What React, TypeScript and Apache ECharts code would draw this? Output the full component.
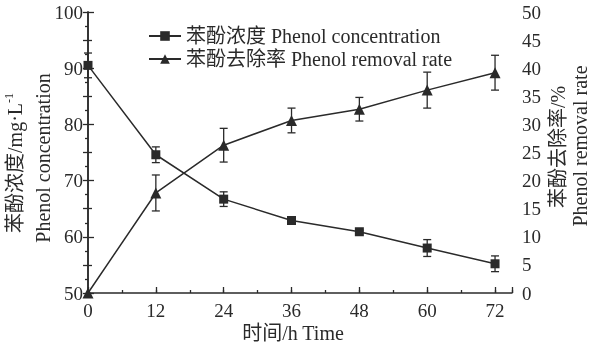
import React, { useEffect, useRef } from 'react';
import * as echarts from 'echarts';

const hours = [0, 12, 24, 36, 48, 60, 72];
const concentration = [90.5, 74.6, 66.7, 62.9, 60.9, 58.0, 55.2];
const concentrationErr = [2.2, 1.4, 1.3, 0.6, 0.3, 1.5, 1.4];
const removalRate = [0, 17.8, 26.3, 30.7, 32.7, 36.1, 39.2];
const removalErr = [0, 3.2, 3.0, 2.2, 2.1, 3.2, 3.1];
const seriesNames = ['苯酚浓度 Phenol concentration', '苯酚去除率 Phenol removal rate'];

const FONT = '"Liberation Serif", "Times New Roman", "Noto Sans CJK SC", serif';
const INK = '#2a2a2a';
const FS = 19;
const NFS = 20;

export default function App() {
  const ref = useRef<HTMLDivElement>(null);
  useEffect(() => {
    document.body.style.margin = '0';
    const chart = echarts.init(ref.current!, null, { renderer: 'svg' });

    const errorBar = (yIdx: number, vals: number[], errs: number[]) => ({
      type: 'custom',
      xAxisIndex: 0,
      yAxisIndex: yIdx,
      silent: true,
      z: 1,
      data: hours
        .map((h, i) => [h, vals[i] - errs[i], vals[i] + errs[i]])
        .filter((d) => d[2] > d[1]),
      encode: { x: 0, y: [1, 2] },
      renderItem: (params: any, api: any) => {
        const x = api.value(0);
        const p1 = api.coord([x, api.value(1)]);
        const p2 = api.coord([x, api.value(2)]);
        const w = 4;
        const style = { stroke: INK, lineWidth: 1.3 };
        return {
          type: 'group',
          children: [
            { type: 'line', shape: { x1: p1[0], y1: p1[1], x2: p2[0], y2: p2[1] }, style },
            { type: 'line', shape: { x1: p1[0] - w, y1: p1[1], x2: p1[0] + w, y2: p1[1] }, style },
            { type: 'line', shape: { x1: p2[0] - w, y1: p2[1], x2: p2[0] + w, y2: p2[1] }, style },
          ],
        };
      },
    });

    const axisLine = { show: true, lineStyle: { color: INK, width: 1.5 } };
    const label = { color: INK, fontSize: FS, fontFamily: FONT };
    const nameText = (text: string, x: number, y: number) => ({
      type: 'text',
      x,
      y,
      rotation: Math.PI / 2,
      style: {
        text,
        align: 'center',
        verticalAlign: 'middle',
        fill: INK,
        fontSize: NFS,
        fontFamily: FONT,
      },
    });

    chart.setOption({
      animation: false,
      grid: { left: 88, right: 84, top: 12, bottom: 54, containLabel: false },
      legend: {
        orient: 'vertical',
        left: 143,
        top: 21,
        itemGap: 3,
        itemWidth: 32,
        itemHeight: 12,
        data: seriesNames,
        textStyle: { color: INK, fontSize: NFS, fontFamily: FONT },
      },
      xAxis: [
        {
          type: 'value',
          min: 0,
          max: 75,
          interval: 12,
          axisLine,
          axisTick: { show: true, inside: true, length: 6, lineStyle: { color: INK, width: 1.3 } },
          axisLabel: {
            ...label,
            margin: 8,
            formatter: (v: number) => (v % 12 === 0 ? String(v) : ''),
          },
          splitLine: { show: false },
        },
        {
          type: 'value',
          position: 'bottom',
          min: 0,
          max: 75,
          interval: 6,
          axisLine: { show: false },
          axisTick: { show: true, inside: true, length: 3, lineStyle: { color: INK, width: 1.3 } },
          axisLabel: { show: false },
          splitLine: { show: false },
        },
      ],
      yAxis: [
        {
          type: 'value',
          min: 50,
          max: 100,
          interval: 10,
          axisLine,
          axisTick: { show: true, inside: true, length: 6, lineStyle: { color: INK, width: 1.3 } },
          minorTick: { show: true, splitNumber: 2, length: 4, lineStyle: { color: INK, width: 1.3 } },
          axisLabel: { ...label, margin: 5 },
          splitLine: { show: false },
        },
        {
          type: 'value',
          min: 0,
          max: 50,
          interval: 5,
          position: 'right',
          axisLine,
          axisTick: { show: true, inside: true, length: 5, lineStyle: { color: INK, width: 1.3 } },
          minorTick: { show: true, splitNumber: 2, length: 3, lineStyle: { color: INK, width: 1.3 } },
          axisLabel: { ...label, margin: 10 },
          splitLine: { show: false },
        },
      ],
      series: [
        errorBar(0, concentration, concentrationErr),
        errorBar(1, removalRate, removalErr),
        {
          name: seriesNames[0],
          type: 'line',
          xAxisIndex: 0,
          yAxisIndex: 0,
          data: hours.map((h, i) => [h, concentration[i]]),
          symbol: 'rect',
          symbolSize: 9,
          lineStyle: { color: INK, width: 1.5 },
          itemStyle: { color: INK },
          z: 3,
        },
        {
          name: seriesNames[1],
          type: 'line',
          xAxisIndex: 0,
          yAxisIndex: 1,
          data: hours.map((h, i) => [h, removalRate[i]]),
          symbol: 'triangle',
          symbolSize: 11,
          lineStyle: { color: INK, width: 1.5 },
          itemStyle: { color: INK },
          z: 3,
        },
      ],
      graphic: [
        {
          type: 'text',
          x: 15,
          y: 163,
          rotation: Math.PI / 2,
          style: {
            text: '{a|苯酚浓度/mg·L}{s|-1}',
            align: 'center',
            verticalAlign: 'middle',
            fill: INK,
            rich: {
              a: { fontSize: NFS, fontFamily: FONT, fill: INK, lineHeight: 24 },
              s: { fontSize: 12, fontFamily: FONT, fill: INK, verticalAlign: 'top', lineHeight: 24 },
            },
          },
        },
        nameText('Phenol concentration', 43, 158),
        nameText('苯酚去除率/%', 558, 147),
        nameText('Phenol removal rate', 580, 146),
        {
          type: 'text',
          x: 293,
          y: 333,
          style: {
            text: '时间/h Time',
            align: 'center',
            verticalAlign: 'middle',
            fill: INK,
            fontSize: NFS,
            fontFamily: FONT,
          },
        },
      ],
    });
    return () => chart.dispose();
  }, []);
  return (
    <div
      ref={ref}
      style={{ position: 'fixed', left: 0, top: 0, width: 596, height: 347 }}
    />
  );
}
